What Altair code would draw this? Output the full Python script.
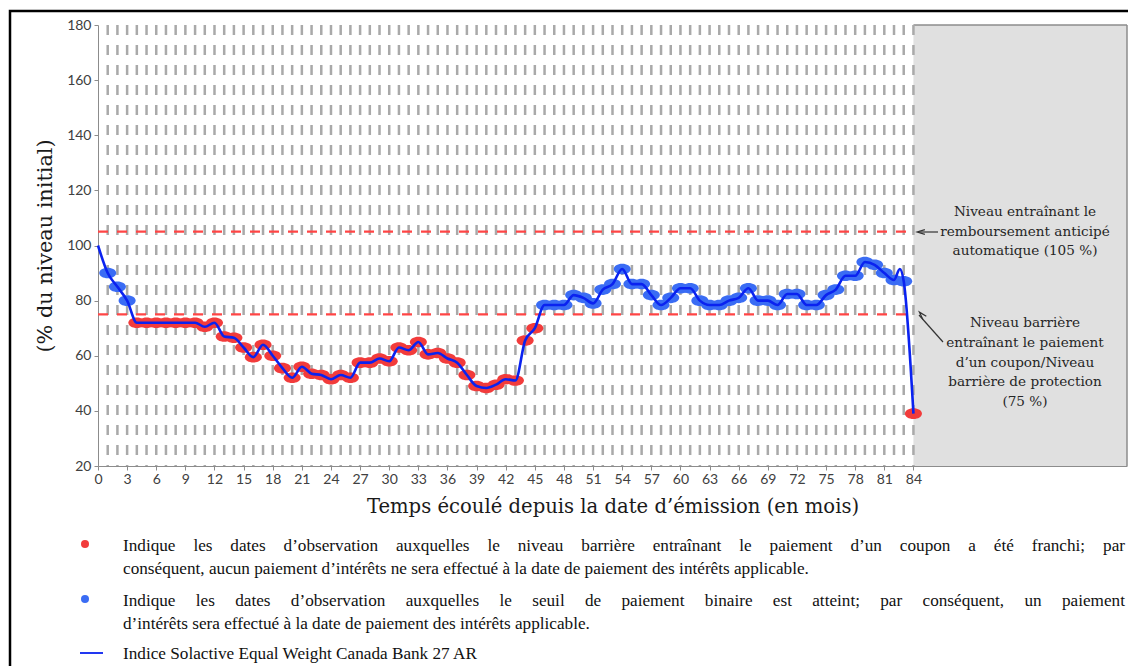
import altair as alt
import pandas as pd

# ---------------- data ----------------
obs_months = list(range(1, 85))
obs_levels = [
    90, 85, 80, 72, 72, 72, 72, 72, 72, 72,
    70.5, 72, 67, 66.5, 63, 59.5, 64, 60, 55.5, 52,
    56, 53.5, 53, 51.5, 53, 52, 57.5, 57.5, 59, 58,
    63, 62, 65, 60.5, 61, 59, 57.5, 53, 49, 48.3,
    49.5, 51.5, 51, 65.5, 70, 78.4, 78.4, 78.4, 82, 81,
    79, 84, 86, 91.5, 86, 86, 82, 78.4, 81, 84.5,
    84.5, 80, 78.4, 78.4, 80, 81, 84.5, 80, 80, 78.4,
    82.4, 82.4, 78.4, 78.4, 82, 84, 89, 89, 94, 93,
    90, 87.5, 87, 39,
]
line_extra_months = [0, 82.6]
line_extra_levels = [100, 91.5]

coupon_barrier = 75
autocall_level = 105
maturity_month = 84
x_end = 106
y_min, y_max = 20, 180
x_ticks = list(range(0, 85, 3))
y_ticks = list(range(20, 181, 20))
grid_months = list(range(1, 85))

title_x = "Temps écoulé depuis la date d’émission (en mois)"
title_y = "(% du niveau initial)"

note_autocall = ["Niveau entraînant le", "remboursement anticipé", "automatique (105 %)"]
note_barrier = ["Niveau barrière", "entraînant le paiement", "d’un coupon/Niveau",
                "barrière de protection", "(75 %)"]

legend_red = ["Indique les dates d’observation auxquelles le niveau barrière entraînant le paiement d’un coupon a été franchi; par",
              "conséquent, aucun paiement d’intérêts ne sera effectué à la date de paiement des intérêts applicable."]
legend_blue = ["Indique les dates d’observation auxquelles le seuil de paiement binaire est atteint; par conséquent, un paiement",
               "d’intérêts sera effectué à la date de paiement des intérêts applicable."]
legend_line = "Indice Solactive Equal Weight Canada Bank 27 AR"

RED = "#f23b3b"
BLUE = "#3a6cf4"
LINE = "#0a22f0"
W, H = 1029, 441
LEG_SIZE = 17.2

# ---------------- tables ----------------
pts = pd.DataFrame({
    "m": obs_months,
    "v": obs_levels,
    "s": ["franchi" if v < coupon_barrier else "atteint" for v in obs_levels],
})
line_df = pd.DataFrame({
    "m": obs_months + line_extra_months,
    "v": obs_levels + line_extra_levels,
}).sort_values("m")
grid_df = pd.DataFrame({"m": grid_months})
levels_df = pd.DataFrame({"v": [autocall_level, coupon_barrier], "a": [0, 0], "b": [maturity_month] * 2})
box_df = pd.DataFrame({"a": [maturity_month], "b": [x_end], "lo": [y_min], "hi": [y_max]})
one = pd.DataFrame({"k": [0]})

xs = alt.Scale(domain=[0, x_end], nice=False, zero=False)
ys = alt.Scale(domain=[y_min, y_max], nice=False, zero=False)

x_axis = alt.Axis(values=x_ticks, title=title_x, labelFont="Lato", labelFontSize=14,
                  labelColor="#404040", domainColor="#8c8c8c", tickColor="#8c8c8c", tickSize=4,
                  grid=False, titleFont="DejaVu Serif", titleFontSize=19.6, titleFontWeight="normal",
                  titleColor="#1a1a1a", titlePadding=11, labelPadding=2, labelFlush=False,
                  labelOverlap=False)
y_axis = alt.Axis(values=y_ticks, title=title_y, labelFont="Lato", labelFontSize=14,
                  labelColor="#404040", domainColor="#8c8c8c", tickColor="#8c8c8c", tickSize=4,
                  grid=False, titleFont="DejaVu Serif", titleFontSize=20.8, titleFontWeight="normal",
                  titleColor="#1a1a1a", titlePadding=11, labelPadding=3, labelOverlap=False)


def X(f):
    return alt.X(f, scale=xs, axis=x_axis)


def Y(f):
    return alt.Y(f, scale=ys, axis=y_axis)


# gray maturity box
box = alt.Chart(box_df).mark_rect(color="#e0e0e0").encode(
    x=X("a:Q"), x2="b:Q", y=Y("lo:Q"), y2="hi:Q")
box_top = alt.Chart(box_df).mark_rule(color="#8c8c8c", strokeWidth=1.5).encode(
    x=X("a:Q"), x2="b:Q", y=Y("hi:Q"))
box_right = alt.Chart(box_df).mark_rule(color="#8c8c8c", strokeWidth=1.5).encode(
    x=X("b:Q"), y=Y("lo:Q"), y2="hi:Q")

grid = alt.Chart(grid_df).mark_rule(color="#a9a9a9", strokeWidth=2.5, strokeDash=[10, 10]).encode(
    x=X("m:Q"), y=alt.value(0), y2=alt.value(H))

levels = alt.Chart(levels_df).mark_rule(color="#ff4545", strokeWidth=2.2, strokeDash=[10, 9]).encode(
    x=X("a:Q"), x2="b:Q", y=Y("v:Q"))

ellipse = "M -1 0 A 1 0.62 0 1 1 1 0 A 1 0.62 0 1 1 -1 0 Z"
points = alt.Chart(pts).mark_point(shape=ellipse, filled=True, opacity=1, size=290).encode(
    x=X("m:Q"), y=Y("v:Q"),
    color=alt.Color("s:N", scale=alt.Scale(domain=["franchi", "atteint"], range=[RED, BLUE]), legend=None))

line = alt.Chart(line_df).mark_line(color=LINE, strokeWidth=2.6, interpolate="monotone").encode(
    x=X("m:Q"), y=Y("v:Q"))

layers = [box, box_top, box_right, grid, levels, points, line]


def txt(s, px, py, size=13.6, font="DejaVu Serif", align="center", color="#262626"):
    return alt.Chart(one).mark_text(text=s, font=font, fontSize=size, align=align,
                                    baseline="middle", color=color).encode(
        x=alt.value(px - 98), y=alt.value(py - 25))


for s, py in zip(note_autocall, [212, 232, 251]):
    layers.append(txt(s, 1025, py))
for s, py in zip(note_barrier, [323, 343, 363, 382, 402]):
    layers.append(txt(s, 1025, py))

arrow_head = "M 1 -0.6 L -1 0 L 1 0.6"


def arrow(x1, y1, x2, y2, ang):
    r = alt.Chart(one).mark_rule(color="#333333", strokeWidth=1.2).encode(
        x=alt.value(x1 - 98), y=alt.value(y1 - 25), x2=alt.value(x2 - 98), y2=alt.value(y2 - 25))
    h = alt.Chart(one).mark_point(shape=arrow_head, filled=False, color="#333333", strokeWidth=1.2,
                                  size=60, angle=ang, opacity=1).encode(
        x=alt.value(x2 - 98 + 3), y=alt.value(y2 - 25))
    return [r, h]


layers += arrow(938, 232, 918, 232, 0)
layers += arrow(943, 342, 919, 315, 48)

# Times/Liberation Serif advance widths (per 1000 em) for justifying lines
_tw = {" ": 250, "a": 444, "b": 500, "c": 444, "d": 500, "e": 444, "f": 333, "g": 500, "h": 500,
       "i": 278, "j": 278, "k": 500, "l": 278, "m": 778, "n": 500, "o": 500, "p": 500, "q": 500,
       "r": 333, "s": 389, "t": 278, "u": 500, "v": 500, "w": 722, "x": 500, "y": 500, "z": 444,
       "I": 333, ";": 278, ",": 250, "’": 333, "é": 444, "è": 444, "ê": 444, "à": 444, "â": 444,
       "î": 278}


def word_w(wd, size):
    return sum(_tw.get(c, 500) for c in wd) * size / 1000.0


def justified(s, x0, x1, py, size):
    words = s.split(" ")
    total = sum(word_w(w, size) for w in words)
    gap = (x1 - x0 - total) / (len(words) - 1)
    out = []
    x = x0
    for w in words:
        out.append(txt(w, x, py, size=size, font="Liberation Serif", align="left", color="#111111"))
        x += word_w(w, size) + gap
    return out


# legend below the chart
layers.append(alt.Chart(one).mark_circle(color=RED, size=64, opacity=1).encode(
    x=alt.value(85 - 98), y=alt.value(544 - 25)))
layers.append(alt.Chart(one).mark_circle(color=BLUE, size=64, opacity=1).encode(
    x=alt.value(85 - 98), y=alt.value(599 - 25)))
layers.append(alt.Chart(one).mark_rule(color=LINE, strokeWidth=1.8).encode(
    x=alt.value(80 - 98), x2=alt.value(103 - 98), y=alt.value(653 - 25)))

layers += justified(legend_red[0], 123, 1125, 546, LEG_SIZE)
layers.append(txt(legend_red[1], 123, 569, size=LEG_SIZE, font="Liberation Serif", align="left", color="#111111"))
layers += justified(legend_blue[0], 123, 1125, 601, LEG_SIZE)
layers.append(txt(legend_blue[1], 123, 624, size=LEG_SIZE, font="Liberation Serif", align="left", color="#111111"))
layers.append(txt(legend_line, 123, 654, size=LEG_SIZE, font="Liberation Serif", align="left", color="#111111"))

# outer frame
layers.append(alt.Chart(one).mark_rect(fillOpacity=0, stroke="black", strokeWidth=2.5).encode(
    x=alt.value(10 - 98), x2=alt.value(1300), y=alt.value(11 - 25), y2=alt.value(900)))

chart = alt.layer(*layers).properties(
    width=W, height=H,
    autosize=alt.AutoSizeParams(type="none"),
    padding={"left": 90, "top": 17, "right": 1, "bottom": 200},
).configure_view(stroke=None).configure_axis(labelOverlap=False)

chart.save("out.html", embed_options={"renderer": "svg", "actions": False})
